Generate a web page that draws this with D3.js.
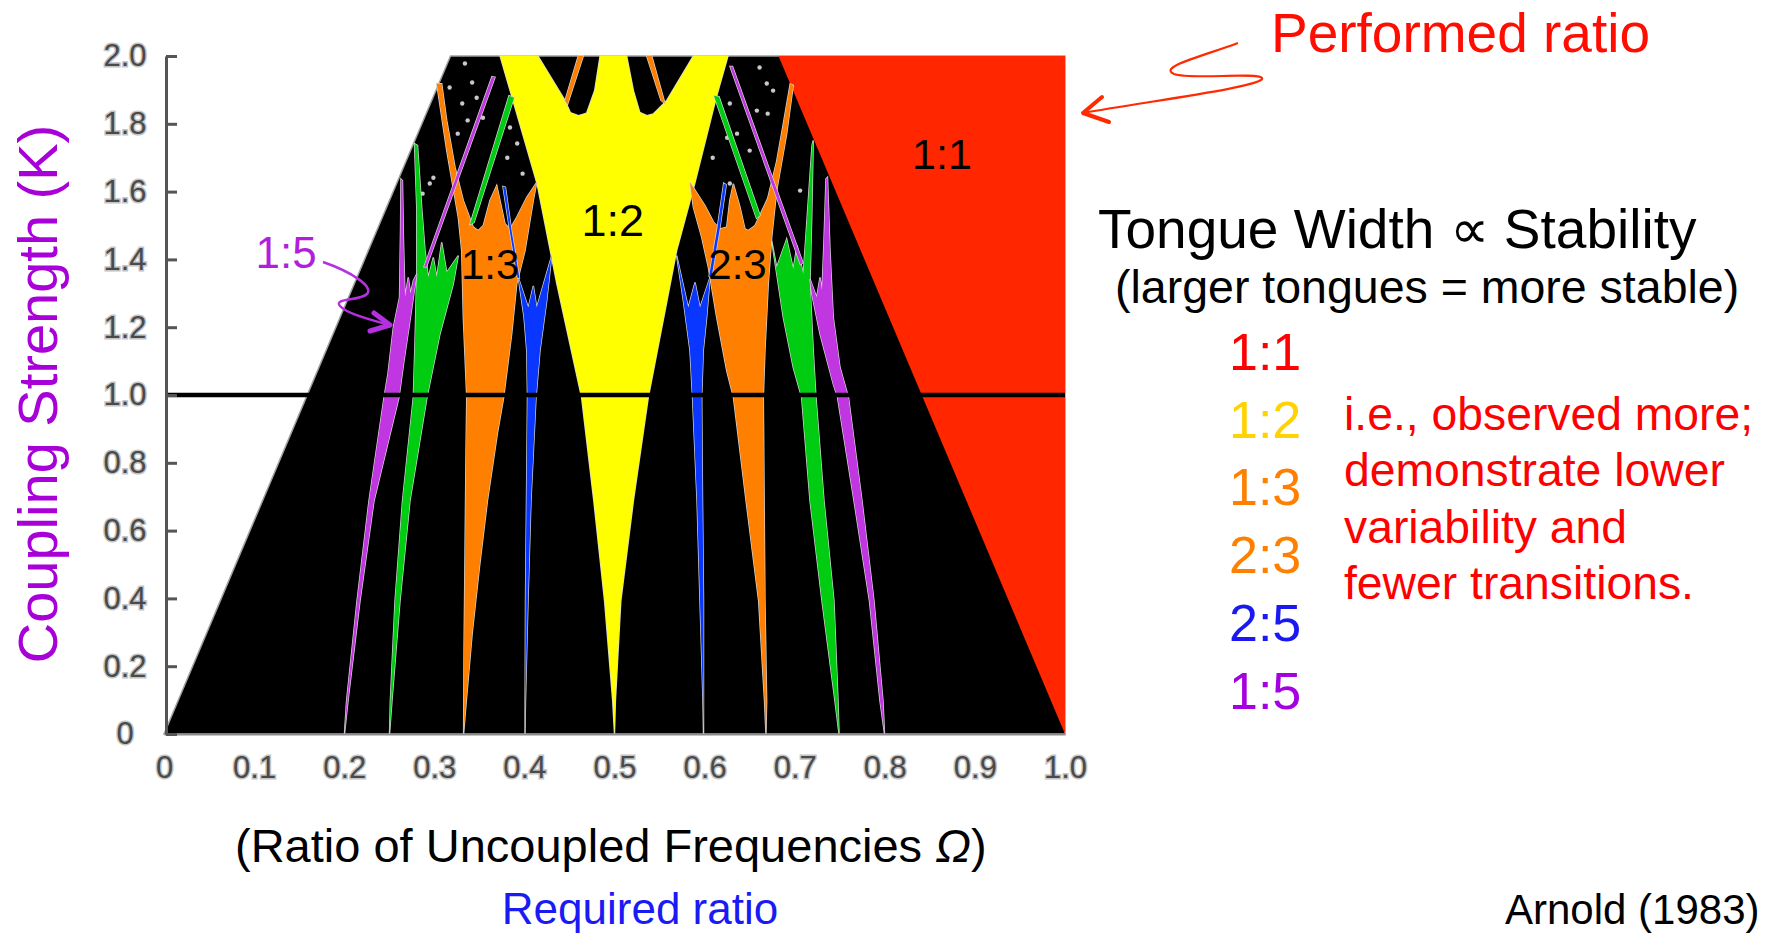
<!DOCTYPE html>
<meta charset="utf-8">
<style>

body {
  margin: 0;
  background: #fff;
}

svg {
  display: block;
  font-family: "Liberation Sans", Arial, sans-serif;
}

.axis .tick text {
  font-size: 31px;
  fill: #4a4a4a;
  stroke: #c4c4c4;
  stroke-width: 3px;
  paint-order: stroke;
}

.axis--y .domain,
.axis--y .tick line {
  stroke: #555;
  stroke-width: 3px;
}

.axis--x .domain {
  stroke: #8c8c8c;
  stroke-width: 2px;
}

.tongue {
  stroke: #d6d6d6;
  stroke-width: 1.4px;
  paint-order: stroke;
}

</style>
<svg width="1777" height="934"></svg>
<script src="https://d3js.org/d3.v7.min.js"></script>
<script>

  // tick values and labels
  var xTicks = [0, 0.1, 0.2, 0.3, 0.4, 0.5, 0.6, 0.7, 0.8, 0.9, 1.0];
  var xTickLabels = ["0", "0.1", "0.2", "0.3", "0.4", "0.5", "0.6", "0.7", "0.8", "0.9", "1.0"];
  var yTicks = [0, 0.2, 0.4, 0.6, 0.8, 1.0, 1.2, 1.4, 1.6, 1.8, 2.0];
  var yTickLabels = ["0", "0.2", "0.4", "0.6", "0.8", "1.0", "1.2", "1.4", "1.6", "1.8", "2.0"];

  // critical coupling line
  var criticalK = 1;

  // regions, as [omega, K] pairs
  var zone01 = [[0, 0], [0.318, 2], [1, 2], [1, 0]];
  var tongue11 = [[0.682, 2], [1, 2], [1, 0]];

  var tongue12 = [[0.500, 0], [0.498, 0.097], [0.489, 0.392], [0.477, 0.688], [0.4635, 0.992],
    [0.436, 1.328], [0.414, 1.624], [0.373, 2], [0.415, 2], [0.445, 1.869], [0.451, 1.833],
    [0.460, 1.824], [0.469, 1.831], [0.478, 1.898], [0.484, 2], [0.5135, 2], [0.521, 1.898],
    [0.528, 1.834], [0.536, 1.824], [0.543, 1.829], [0.558, 1.869], [0.5875, 2], [0.626, 2],
    [0.613, 1.878], [0.589, 1.623], [0.569, 1.426], [0.5375, 0.992], [0.521, 0.688],
    [0.507, 0.392], [0.501, 0.097]];

  var tongue13 = [[0.3325, 0], [0.3330, 0.245], [0.3341, 0.540], [0.3352, 0.835], [0.3360, 0.993],
    [0.3322, 1.229], [0.3304, 1.426], [0.3266, 1.524], [0.3138, 1.721], [0.3027, 1.918],
    [0.3082, 1.918], [0.3138, 1.810], [0.3230, 1.672], [0.3322, 1.574], [0.3433, 1.495],
    [0.3488, 1.485], [0.3544, 1.500], [0.3618, 1.574], [0.3693, 1.618], [0.3729, 1.574],
    [0.3785, 1.505], [0.3840, 1.490], [0.3915, 1.524], [0.4026, 1.583], [0.4137, 1.627],
    [0.4099, 1.574], [0.4007, 1.426], [0.3915, 1.328], [0.3859, 1.180], [0.3770, 0.993],
    [0.3700, 0.886], [0.3590, 0.688], [0.3500, 0.490], [0.3420, 0.295], [0.3355, 0.097]];

  var tongue23 = [[0.6681, 0], [0.6689, 0.097], [0.6670, 0.392], [0.6652, 0.993], [0.6670, 1.131],
    [0.6707, 1.328], [0.6745, 1.465], [0.6800, 1.603], [0.6911, 1.770], [0.6984, 1.913],
    [0.6950, 1.918], [0.6880, 1.810], [0.6800, 1.690], [0.6700, 1.580], [0.6560, 1.500],
    [0.6485, 1.485], [0.6448, 1.490], [0.6393, 1.554], [0.6319, 1.623], [0.6280, 1.574],
    [0.6245, 1.495], [0.6171, 1.490], [0.6100, 1.510], [0.6004, 1.559], [0.5838, 1.627],
    [0.5875, 1.554], [0.5968, 1.465], [0.6041, 1.377], [0.6134, 1.229], [0.6245, 1.072],
    [0.6320, 0.993], [0.6460, 0.688], [0.6600, 0.392], [0.6665, 0.097]];

  var tongue25 = [[0.4007, 0], [0.4012, 0.392], [0.4023, 0.688], [0.4034, 0.993], [0.4026, 1.131],
    [0.3996, 1.229], [0.3932, 1.347], [0.4043, 1.258], [0.4099, 1.322], [0.4137, 1.258],
    [0.4303, 1.411], [0.4248, 1.278], [0.4173, 1.131], [0.4129, 0.993], [0.4073, 0.688],
    [0.4040, 0.392], [0.4012, 0.097]];

  var tongue35 = [[0.5988, 0], [0.5988, 0.392], [0.5977, 0.688], [0.5968, 0.993], [0.5985, 1.131],
    [0.6023, 1.229], [0.6060, 1.347], [0.5949, 1.258], [0.5894, 1.332], [0.5819, 1.258],
    [0.5690, 1.411], [0.5764, 1.278], [0.5838, 1.131], [0.5866, 0.993], [0.5916, 0.688],
    [0.5949, 0.392], [0.5982, 0.097]];

  var tongue14 = [[0.2503, 0], [0.2512, 0.097], [0.2564, 0.392], [0.2647, 0.688], [0.2767, 0.993],
    [0.2786, 1.160], [0.2805, 1.357], [0.2805, 1.554], [0.2780, 1.741], [0.2814, 1.736],
    [0.2860, 1.554], [0.2897, 1.426], [0.2933, 1.347], [0.2989, 1.406], [0.3027, 1.347],
    [0.3082, 1.450], [0.3138, 1.362], [0.3266, 1.411], [0.3211, 1.328], [0.3063, 1.180],
    [0.2919, 0.993], [0.2730, 0.688], [0.2619, 0.392], [0.2530, 0.097]];

  var tongue34 = [[0.7492, 0], [0.7481, 0.097], [0.7436, 0.392], [0.7325, 0.688], [0.7236, 0.993],
    [0.7206, 1.131], [0.7170, 1.328], [0.7189, 1.524], [0.7206, 1.751], [0.7192, 1.736],
    [0.7151, 1.574], [0.7095, 1.357], [0.7026, 1.441], [0.6984, 1.372], [0.6911, 1.460],
    [0.6800, 1.377], [0.6745, 1.455], [0.6873, 1.229], [0.6984, 1.081], [0.7077, 0.993],
    [0.7170, 0.688], [0.7303, 0.392], [0.7447, 0.097]];

  var tongue15 = [[0.2003, 0], [0.2026, 0.097], [0.2142, 0.392], [0.2275, 0.688], [0.2442, 0.993],
    [0.2486, 1.063], [0.2545, 1.199], [0.2614, 1.288], [0.2625, 1.485], [0.2630, 1.637],
    [0.2647, 1.632], [0.2658, 1.456], [0.2675, 1.288], [0.2711, 1.347], [0.2736, 1.299],
    [0.2767, 1.337], [0.2805, 1.357], [0.2730, 1.219], [0.2664, 1.101], [0.2608, 0.993],
    [0.2331, 0.688], [0.2175, 0.392], [0.2042, 0.097]];

  var tongue45 = [[0.7997, 0], [0.7980, 0.097], [0.7880, 0.392], [0.7747, 0.688], [0.7597, 0.993],
    [0.7503, 1.081], [0.7428, 1.229], [0.7392, 1.426], [0.7364, 1.642], [0.7347, 1.638],
    [0.7325, 1.455], [0.7303, 1.308], [0.7281, 1.347], [0.7244, 1.288], [0.7170, 1.342],
    [0.7189, 1.299], [0.7281, 1.180], [0.7428, 1.032], [0.7475, 0.993], [0.7658, 0.688],
    [0.7830, 0.392], [0.7947, 0.097]];

  // thin higher-order streaks
  var streakGreenL = [[0.3829, 1.883], [0.3885, 1.877], [0.3441, 1.509], [0.3396, 1.503]];
  var streakGreenR = [[0.6104, 1.883], [0.6160, 1.880], [0.6615, 1.530], [0.6576, 1.521]];
  var streakPurpleL = [[0.3640, 1.939], [0.3674, 1.937], [0.2913, 1.378], [0.2886, 1.378]];
  var streakPurpleR = [[0.6282, 1.969], [0.6310, 1.969], [0.7092, 1.390], [0.7064, 1.385]];
  var streakBlueL = [[0.3762, 1.615], [0.3790, 1.613], [0.3860, 1.48], [0.3945, 1.345], [0.3925, 1.345], [0.3840, 1.48]];
  var streakBlueR = [[0.6212, 1.625], [0.6240, 1.62], [0.6168, 1.49], [0.6075, 1.345], [0.6050, 1.35], [0.6140, 1.49]];
  var streakOrangeL = [[0.4598, 2], [0.4654, 2], [0.4478, 1.857], [0.4451, 1.869]];
  var streakOrangeR = [[0.5357, 2], [0.5413, 2], [0.5560, 1.860], [0.5516, 1.869]];

  // speckles of the chaotic region near the top
  var speckles = [[0.334, 1.978], [0.342, 1.922], [0.331, 1.860], [0.337, 1.810], [0.326, 1.771],
    [0.317, 1.907], [0.347, 1.877], [0.354, 1.818], [0.384, 1.789], [0.392, 1.742], [0.381, 1.700],
    [0.398, 1.653], [0.295, 1.624], [0.287, 1.594], [0.299, 1.641], [0.284, 1.506],
    [0.661, 1.966], [0.669, 1.919], [0.676, 1.898], [0.658, 1.839], [0.670, 1.830], [0.628, 1.860],
    [0.636, 1.771], [0.625, 1.759], [0.650, 1.721], [0.706, 1.603], [0.609, 1.700], [0.628, 1.624]];

  // legend ratios
  var legendRatios = ["1:1", "1:2", "1:3", "2:3", "2:5", "1:5"];
  var legendColors = ["#ff0000", "#ffd200", "#ff8000", "#ff8000", "#1a1af0", "#a400e0"];

  var colors = {
    yellow: "#ffff00",
    orange: "#ff7f00",
    blue: "#0a37ff",
    green: "#00cc12",
    purple: "#c036e0",
    red: "#ff2600"
  };

  var svg = d3.select("svg");

  // scales
  var x = d3.scaleLinear().domain([0, 1]).range([164, 1065]);
  var y = d3.scaleLinear().domain([0, 2]).range([734, 56]);

  var area = d3.line()
    .x(function(d) { return x(d[0]); })
    .y(function(d) { return y(d[1]); })
    .curve(d3.curveLinearClosed);

  var plot = svg.append("g");

  // black quasi-periodic zone and the red 1:1 tongue
  plot.append("path")
    .datum(zone01)
    .attr("d", area)
    .attr("fill", "#000")
    .attr("stroke", "#a0a0a0")
    .attr("stroke-width", 1.5);

  plot.append("path")
    .datum(tongue11)
    .attr("d", area)
    .attr("fill", colors.red);

  plot.selectAll(".speckle")
    .data(speckles)
    .enter().append("circle")
    .attr("class", "speckle")
    .attr("cx", function(d) { return x(d[0]); })
    .attr("cy", function(d) { return y(d[1]); })
    .attr("r", 2.2)
    .attr("fill", "#c8c8c8");

  var tongues = [
    { pts: tongue12, fill: colors.yellow },
    { pts: tongue13, fill: colors.orange },
    { pts: tongue23, fill: colors.orange },
    { pts: tongue25, fill: colors.blue },
    { pts: tongue35, fill: colors.blue },
    { pts: tongue14, fill: colors.green },
    { pts: tongue34, fill: colors.green },
    { pts: tongue15, fill: colors.purple },
    { pts: tongue45, fill: colors.purple },
    { pts: streakGreenL, fill: colors.green },
    { pts: streakGreenR, fill: colors.green },
    { pts: streakPurpleL, fill: colors.purple },
    { pts: streakPurpleR, fill: colors.purple },
    { pts: streakBlueL, fill: colors.blue },
    { pts: streakBlueR, fill: colors.blue },
    { pts: streakOrangeL, fill: colors.orange },
    { pts: streakOrangeR, fill: colors.orange }
  ];

  plot.selectAll(".tongue")
    .data(tongues)
    .enter().append("path")
    .attr("class", "tongue")
    .attr("d", function(d) { return area(d.pts); })
    .attr("fill", function(d) { return d.fill; });

  // K = 1 line
  plot.append("line")
    .attr("x1", x(0) + 1)
    .attr("x2", x(1))
    .attr("y1", y(criticalK))
    .attr("y2", y(criticalK))
    .attr("stroke", "#000")
    .attr("stroke-width", 4.5);

  // axes
  svg.append("g")
    .attr("class", "axis axis--x")
    .attr("transform", "translate(0," + y(0) + ")")
    .call(d3.axisBottom(x)
      .tickValues(xTicks)
      .tickSize(0)
      .tickPadding(22)
      .tickFormat(function(d, i) { return xTickLabels[i]; }));

  var yAxis = svg.append("g")
    .attr("class", "axis axis--y")
    .attr("transform", "translate(166,0)")
    .call(d3.axisLeft(y)
      .tickValues(yTicks)
      .tickSizeInner(-11)
      .tickSizeOuter(0)
      .tickPadding(41)
      .tickFormat(function(d, i) { return yTickLabels[i]; }));

  yAxis.selectAll(".tick text").attr("text-anchor", "middle");

  // tongue labels inside the chart
  var inLabels = [
    { text: "1:2", o: 0.498, k: 1.47, size: 45, color: "#000" },
    { text: "1:3", o: 0.362, k: 1.343, size: 42, color: "#000" },
    { text: "2:3", o: 0.6365, k: 1.343, size: 42, color: "#000" },
    { text: "1:1", o: 0.8635, k: 1.668, size: 43, color: "#000" },
    { text: "1:5", o: 0.1355, k: 1.376, size: 44, color: "#b21fdc" }
  ];

  svg.selectAll(".inlabel")
    .data(inLabels)
    .enter().append("text")
    .attr("class", "inlabel")
    .attr("x", function(d) { return x(d.o); })
    .attr("y", function(d) { return y(d.k); })
    .attr("text-anchor", "middle")
    .attr("font-size", function(d) { return d.size; })
    .attr("fill", function(d) { return d.color; })
    .text(function(d) { return d.text; });

  // purple pointer to the 1:5 tongue
  svg.append("path")
    .attr("d", "M323,262 C352,272 374,287 367,294 C360,301 333,298 340,306 C347,314 372,320 389,325")
    .attr("fill", "none")
    .attr("stroke", "#b530e0")
    .attr("stroke-width", 2.5);
  svg.append("path")
    .attr("d", "M374,313 L390,325 L370,331")
    .attr("fill", "none")
    .attr("stroke", "#b530e0")
    .attr("stroke-width", 5)
    .attr("stroke-linecap", "round")
    .attr("stroke-linejoin", "round");

  // axis titles
  svg.append("text")
    .attr("transform", "translate(57,394) rotate(-90)")
    .attr("text-anchor", "middle")
    .attr("font-size", 56)
    .attr("fill", "#a800d8")
    .text("Coupling Strength (K)");

  var xTitle = svg.append("text")
    .attr("x", 235)
    .attr("y", 862)
    .attr("font-size", 47)
    .attr("fill", "#000");
  xTitle.append("tspan").text("(Ratio of Uncoupled Frequencies ");
  xTitle.append("tspan").attr("font-style", "italic").text("\u03A9");
  xTitle.append("tspan").text(")");

  svg.append("text")
    .attr("x", 640)
    .attr("y", 924)
    .attr("text-anchor", "middle")
    .attr("font-size", 44)
    .attr("fill", "#1a1af5")
    .text("Required ratio");

  // right-hand notes
  svg.append("text")
    .attr("x", 1271)
    .attr("y", 52)
    .attr("font-size", 55)
    .attr("fill", "#ff0d00")
    .text("Performed ratio");

  svg.append("path")
    .attr("d", "M1238,43 C1200,57 1158,67 1174,74 C1190,80 1256,72 1262,78 C1267,86 1150,101 1083,113")
    .attr("fill", "none")
    .attr("stroke", "#ff2a00")
    .attr("stroke-width", 2.2);
  svg.append("path")
    .attr("d", "M1102,97 L1083,113 L1109,122")
    .attr("fill", "none")
    .attr("stroke", "#ff2a00")
    .attr("stroke-width", 4)
    .attr("stroke-linecap", "round")
    .attr("stroke-linejoin", "round");

  svg.append("text")
    .attr("x", 1098)
    .attr("y", 248)
    .attr("font-size", 55)
    .attr("fill", "#000")
    .text("Tongue Width \u221D Stability");

  svg.append("text")
    .attr("x", 1115)
    .attr("y", 303)
    .attr("font-size", 46.5)
    .attr("fill", "#000")
    .text("(larger tongues = more stable)");

  svg.selectAll(".legend")
    .data(legendRatios)
    .enter().append("text")
    .attr("class", "legend")
    .attr("x", 1229)
    .attr("y", function(d, i) { return 370 + i * 67.7; })
    .attr("font-size", 52)
    .attr("fill", function(d, i) { return legendColors[i]; })
    .text(function(d) { return d; });

  var noteLines = ["i.e., observed more;", "demonstrate lower", "variability and", "fewer transitions."];
  svg.selectAll(".note")
    .data(noteLines)
    .enter().append("text")
    .attr("class", "note")
    .attr("x", 1344)
    .attr("y", function(d, i) { return 430 + i * 56.4; })
    .attr("font-size", 46.3)
    .attr("fill", "#ff0000")
    .text(function(d) { return d; });

  svg.append("text")
    .attr("x", 1505)
    .attr("y", 924)
    .attr("font-size", 42)
    .attr("fill", "#000")
    .text("Arnold (1983)");

</script>
